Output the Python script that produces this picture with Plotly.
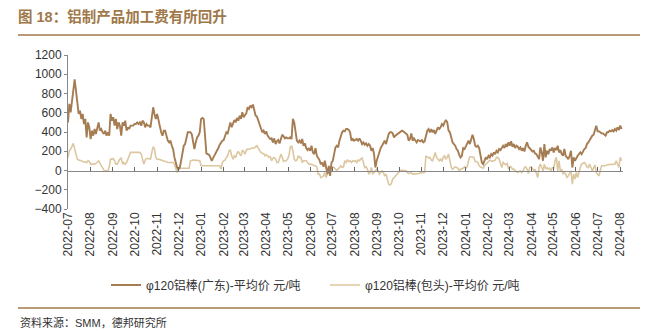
import pandas as pd
import plotly.graph_objects as go

# 铝棒加工费（元/吨），2022-07 至 2024-08 日度近似
guangdong = [
    500, 692, 605, 727, 831, 946, 831, 692, 588, 623, 536, 588, 483, 536, 344, 500, 449, 327, 414, 362,
    431, 379, 449, 500, 414, 431, 397, 379, 414, 362, 397, 362, 588, 518, 553, 466, 536, 431, 500, 466,
    362, 500, 466, 518, 414, 449, 431, 466, 466, 466, 483, 483, 500, 483, 500, 466, 518, 500, 449, 483,
    466, 466, 449, 588, 657, 588, 536, 588, 518, 466, 397, 362, 414, 414, 344, 310, 292, 310, 257, 223,
    136, 66, 31, 14, 31, 101, 205, 257, 275, 344, 397, 397, 397, 379, 310, 223, 292, 344, 362,
    397, 536, 546, 536, 310, 177, 170, 163, 136, 101, 129, 153, 188, 212, 233, 268, 292, 310, 317, 372,
    397, 386, 449, 500, 449, 483, 525, 500, 546, 518, 570, 536, 605, 553, 581, 595, 657, 640, 675, 657,
    685, 623, 570, 560, 518, 483, 431, 397, 414, 379, 407, 362, 344, 327, 334, 292, 334, 275, 303, 317,
    282, 327, 372, 355, 334, 344, 334, 334, 344, 327, 536, 500, 414, 310, 292, 310, 282, 327, 257, 282,
    233, 212, 233, 205, 257, 188, 170, 233, 153, 136, 108, 66, 83, 38, 101, 31, -38, 49, -56, 83,
    101, 170, 240, 257,
    240, 310, 362, 397, 414, 407, 431, 431, 421, 397, 310, 327, 310, 317, 327, 310, 334, 310, 275, 292,
    268, 282, 257, 275, 257, 205, 233, 170, 31, 101, 153, 188, 233, 257, 282, 310, 275, 344, 379, 397,
    397, 386, 344, 362, 372, 386, 397, 407, 414, 407, 397, 386, 372, 310, 327, 386, 310, 334, 317, 292,
    317, 310, 303, 317, 292, 303, 362, 414, 431, 397, 431, 397, 421, 379, 414, 449, 431, 449, 483, 466,
    500, 525, 500, 414, 397, 327, 292, 275, 257, 223, 205, 163, 136, 153, 233, 223, 257, 292, 310, 275,
    327, 372, 327, 257,
    247, 257, 233, 170, 83, 66, 101, 136, 118, 153, 136, 170, 153, 188, 170, 205, 188, 223, 212, 233,
    257, 233, 275, 247, 292, 257, 303, 247, 275, 233, 257, 247, 223, 240, 205, 233, 198, 257, 292, 247,
    233, 212, 198, 205, 177, 170, 136, 118, 240, 188, 101, 275, 136, 205, 170, 223, 205, 240, 188, 233,
    212, 257, 188, 212, 170, 153, 223, 153, 136, 118, 153, 205, 31, 136, 101, 136, 153, 170, 188, 170,
    205, 223, 233, 275, 292, 317, 344, 362, 372, 421, 466, 407, 407, 397, 386, 386, 372, 362, 397, 397,
    414, 407, 421, 407, 431, 414, 449, 421, 466, 431,
]

baotou = [
    136, 205, 223, 257, 282, 223, 153, 118, 108, 108, 101, 94, 90, 94, 83, 101, 94, 66, 66, 59,
    66, 73, 94, 101, 73, 49, 38, 3, -3, -3, -3, 38, 118, 118, 125, 101, 66, 66, 101, 118,
    129, 66, 83, 66, 83, 118, 136, 188, 188, 188, 188, 188, 188, 188, 188, 170, 101, 66, 108, 125,
    125, 125, 118, 188, 247, 223, 136, 118, 118, 115, 108, 101, 101, 94, 94, 83, 83, 83, 80, 83,
    66, 14, -21, 14, 24, 24, 24, 24, 24, 24, 24, 24, 101, 108, 108, 108, 108, 108, 108,
    101, 49, 49, 49, 49, 49, 49, 49, 49, 49, 49, 49, 49, 49, 49, 49, 14, 83, 101, 108,
    136, 153, 205, 212, 153, 118, 153, 136, 177, 198, 170, 153, 212, 198, 170, 212, 223, 223, 223, 233,
    233, 233, 247, 257, 233, 205, 188, 177, 177, 153, 163, 153, 136, 143, 101, 129, 136, 118, 83, 83,
    136, 170, 136, 94, 101, 101, 118, 153, 240, 257, 205, 118, 101, 108, 153, 136, 136, 83, 101, 101,
    101, 83, 66, 66, 66, 59, 49, 49, 38, -38, -38, -73, -66, -56, -21, -73, -31, -3, -21, 31,
    38, 31, 14, 3,
    14, 31, 49, 31, 38, 101, 83, 108, 94, 101, 83, 101, 94, 101, 83, 108, 101, 118, 129, 83,
    31, 38, 14, -38, -21, 31, -38, -21, 3, 14, -3, -38, -21, -3, -21, -56, -38, -90, -143, -150,
    -136, -90, -73, -56, -38, -21, -3, 3, 3, 3, 3, -3, -21, -31, -31, -21, -38, -38, -31, -31,
    -31, -31, -24, -24, -21, -21, 153, 143, 129, 136, 108, 101, 136, 188, 136, 118, 101, 118, 94, 136,
    153, 118, 136, 170, 101, 31, 14, 31, 38, 31, 24, -3, 14, 14, 31, 38, 24, 38, 101, 143,
    143, 143, 136, 94,
    94, 83, 49, 38, 31, 24, 49, 66, 83, 101, 108, 101, 94, 101, 108, 136, 136, 118, 66, 31,
    83, 66, 59, 73, 24, 38, 38, 14, 14, -3, -10, -21, -10, -3, -21, -3, 31, 38, 14, -31,
    31, 38, 24, -3, 14, -38, -73, 31, 66, 31, -3, 66, 14, 31, 14, 24, -3, 31, 24, 101,
    136, -3, 101, -3, 14, -38, -21, -38, -73, -56, -31, -3, -143, -38, -90, -21, -73, -3, 31, 66,
    73, 83, 66, 38, 31, 66, 31, -3, 24, 59, -21, -38, -56, -3, 49, 49, 49, 49, 59, 59,
    59, 59, 59, 59, 66, 101, 59, 31, 136, 101,
]

series_names = ["φ120铝棒(广东)-平均价 元/吨", "φ120铝棒(包头)-平均价 元/吨"]
series_colors = ["#a67c52", "#dcc7a0"]
y_ticks = [-400, -200, 0, 200, 400, 600, 800, 1000, 1200]

start_date, end_date = "2022-07-01", "2024-08-03"
dates_gd = pd.date_range(start_date, end_date, periods=len(guangdong))
dates_bt = pd.date_range(start_date, end_date, periods=len(baotou))

y_min, y_max = -400, 1200
zero_pos = (0 - y_min) / (y_max - y_min)

CJK = "Liberation Sans, Noto Sans CJK SC, sans-serif"
ACCENT = "#a0784a"

fig = go.Figure()
fig.add_trace(go.Scatter(
    x=dates_gd, y=guangdong, mode="lines", name=series_names[0],
    line=dict(color=series_colors[0], width=1.9), xaxis="x2", yaxis="y",
))
fig.add_trace(go.Scatter(
    x=dates_bt, y=baotou, mode="lines", name=series_names[1],
    line=dict(color=series_colors[1], width=1.6), xaxis="x", yaxis="y",
))

x_range = ["2022-07-01", "2024-08-05"]

fig.update_layout(
    width=645, height=331,
    margin=dict(l=68, r=22, t=55, b=122),
    paper_bgcolor="white", plot_bgcolor="white",
    font=dict(family=CJK, size=12, color="#333333"),
    showlegend=True,
    title=dict(
        text="<b>图 18：铝制产品加工费有所回升</b>",
        x=18 / 645, xanchor="left", xref="container",
        y=1 - 17 / 331, yanchor="middle", yref="container",
        font=dict(family=CJK, size=14.5, color=ACCENT),
    ),
    xaxis=dict(
        type="date", range=x_range, tick0="2022-07-01", dtick="M1",
        tickformat="%Y-%m", tickangle=-90, ticks="", showline=False,
        showgrid=False, zeroline=False, automargin=False,
        tickfont=dict(size=12, color="#333333"),
    ),
    xaxis2=dict(
        type="date", range=x_range, overlaying="x", anchor="free",
        position=zero_pos, tick0="2022-07-01", dtick="M1",
        ticks="inside", ticklen=4, tickcolor="#666666", tickwidth=1,
        showticklabels=False, showline=True, linecolor="#888888", linewidth=1,
        showgrid=False, zeroline=False, automargin=False,
    ),
    yaxis=dict(
        range=[y_min, y_max], tickvals=y_ticks, ticks="outside", ticklen=3,
        tickcolor="#888888", showline=True, linecolor="#888888", linewidth=1,
        showgrid=False, zeroline=False, automargin=False,
        tickfont=dict(size=12, color="#333333"),
    ),
    legend=dict(
        orientation="h", x=(106 - 68) / 555, xanchor="left",
        y=-(285 - 209) / 154, yanchor="middle",
        font=dict(family=CJK, size=12, color="#333333"),
        bgcolor="rgba(0,0,0,0)", entrywidth=174, entrywidthmode="pixels",
    ),
    shapes=[
        dict(type="line", xref="paper", yref="paper",
             x0=(18 - 68) / 555, x1=(640 - 68) / 555,
             y0=(209 - 35) / 154, y1=(209 - 35) / 154,
             line=dict(color=ACCENT, width=1.5)),
        dict(type="line", xref="paper", yref="paper",
             x0=(18 - 68) / 555, x1=(640 - 68) / 555,
             y0=(209 - 308) / 154, y1=(209 - 308) / 154,
             line=dict(color=ACCENT, width=1.5)),
    ],
    annotations=[
        dict(text="资料来源：SMM，德邦研究所", xref="paper", yref="paper",
             x=(18 - 68) / 555, y=(209 - 322) / 154, xanchor="left", yanchor="middle",
             showarrow=False, font=dict(family=CJK, size=11, color="#333333")),
    ],
)

fig.write_html("out.html")
